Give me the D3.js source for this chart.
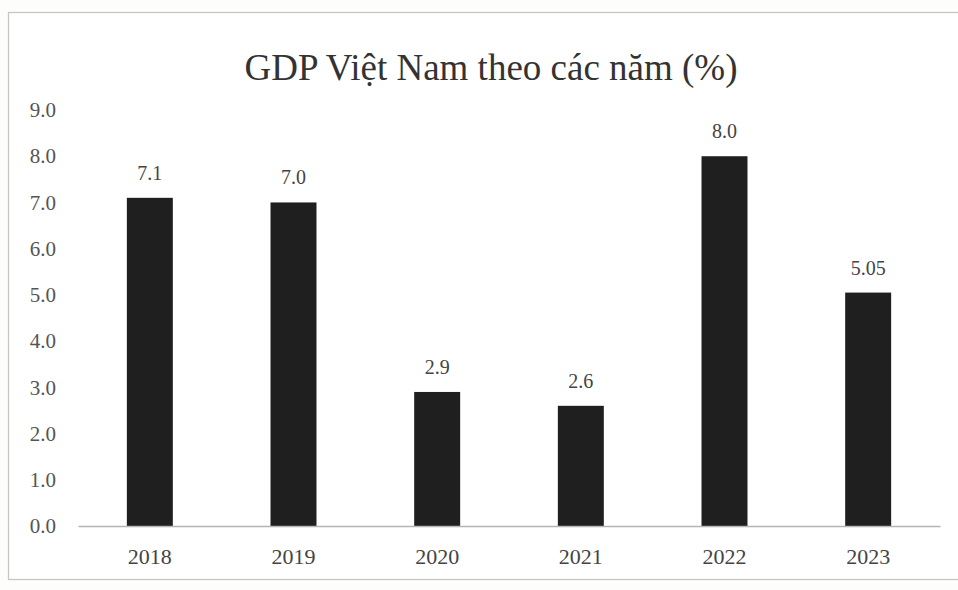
<!DOCTYPE html>
<html>
<head>
<meta charset="utf-8">
<script src="https://cdn.jsdelivr.net/npm/d3@7"></script>
<style>
  body { margin: 0; background: #fdfdfc; }
  text { font-family: "Liberation Serif", "Times New Roman", serif; }
</style>
</head>
<body>
<div class="chart"></div>
<script>
// data
var years = ["2018", "2019", "2020", "2021", "2022", "2023"];
var gdp = [7.1, 7.0, 2.9, 2.6, 8.0, 5.05];
var gdpLabels = ["7.1", "7.0", "2.9", "2.6", "8.0", "5.05"];
var yTicks = [0, 1, 2, 3, 4, 5, 6, 7, 8, 9];

var width = 958, height = 590;

var svg = d3.select(".chart").append("svg")
    .attr("width", width)
    .attr("height", height);

// light frame of the scanned chart area
svg.append("rect")
    .attr("x", 8.5)
    .attr("y", 12.5)
    .attr("width", 970)
    .attr("height", 567)
    .attr("fill", "#ffffff")
    .attr("stroke", "#c4c4c4")
    .attr("stroke-width", 1.2);

var x = d3.scaleBand()
    .domain(years)
    .range([78, 940])
    .paddingInner(0.68)
    .paddingOuter(0.34);

var y = d3.scaleLinear()
    .domain([0, 9])
    .range([526, 110]);

svg.append("text")
    .attr("x", 491)
    .attr("y", 80)
    .attr("text-anchor", "middle")
    .style("font-size", "37px")
    .style("fill", "#333")
    .text("GDP Việt Nam theo các năm (%)");

// y axis: labels only
var yAxis = d3.axisLeft(y)
    .tickValues(yTicks)
    .tickFormat(d3.format(".1f"))
    .tickSize(0)
    .tickPadding(0);

var gy = svg.append("g")
    .attr("transform", "translate(56,0)")
    .call(yAxis);
gy.select(".domain").remove();
gy.selectAll("text")
    .style("font-size", "21px")
    .style("font-family", "Liberation Serif, serif")
    .style("fill", "#555");

svg.selectAll(".bar")
    .data(gdp)
    .enter().append("rect")
    .attr("class", "bar")
    .attr("x", function(d, i){ return x(years[i]); })
    .attr("width", x.bandwidth())
    .attr("y", function(d){ return y(d); })
    .attr("height", function(d){ return y(0) - y(d); })
    .attr("fill", "#1f1f1f");

// x axis line and year labels
var xAxis = d3.axisBottom(x)
    .tickSize(0)
    .tickPadding(22);

var gx = svg.append("g")
    .attr("transform", "translate(0," + y(0) + ")")
    .call(xAxis);
gx.select(".domain")
    .attr("stroke", "#b5b5b5")
    .attr("stroke-width", 1.3);
gx.selectAll("text")
    .style("font-size", "22px")
    .style("font-family", "Liberation Serif, serif")
    .style("fill", "#444");

svg.selectAll(".value")
    .data(gdp)
    .enter().append("text")
    .attr("class", "value")
    .attr("x", function(d, i){ return x(years[i]) + x.bandwidth() / 2; })
    .attr("y", function(d){ return y(d) - 18; })
    .attr("text-anchor", "middle")
    .style("font-size", "20px")
    .style("fill", "#444")
    .text(function(d, i){ return gdpLabels[i]; });
</script>
</body>
</html>
